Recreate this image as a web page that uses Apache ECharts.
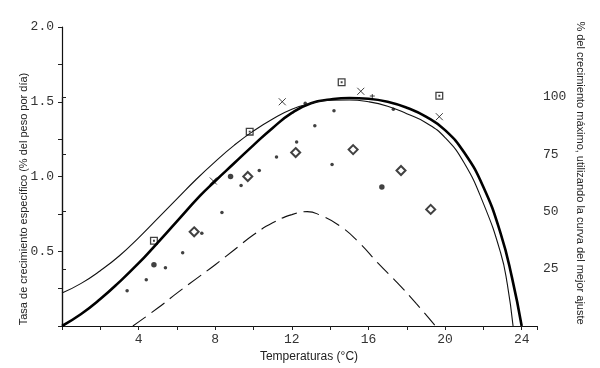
<!DOCTYPE html>
<html>
<head>
<meta charset="utf-8">
<script src="https://cdn.jsdelivr.net/npm/echarts@6/dist/echarts.min.js"></script>
<style>
html, body { margin: 0; padding: 0; background: #fff; }
#chart { width: 600px; height: 368px; }
</style>
</head>
<body>
<div id="chart"></div>
<script>
// curvas: [temperatura, tasa]
var curvaAjuste = [[0,0],[1,0.08],[2,0.18],[3,0.295],[4,0.42],[4.8,0.53],[6,0.70],[7.2,0.87],[8,0.97],[9,1.09],[10,1.21],[11,1.325],[12,1.425],[13,1.49],[14,1.515],[15,1.525],[16,1.52],[17,1.50],[18,1.46],[19,1.40],[20,1.31],[21,1.16],[22,0.93],[22.9,0.62],[23.5,0.32],[24,0]];
var curvaFina = [[0,0.22],[1,0.285],[2,0.37],[3,0.47],[4,0.59],[5,0.72],[6,0.85],[7,0.98],[8,1.10],[9,1.21],[10,1.305],[11,1.385],[12,1.45],[13,1.49],[14,1.51],[15,1.512],[16,1.50],[17,1.47],[18,1.42],[19,1.36],[20,1.26],[21,1.09],[22,0.82],[22.9,0.49],[23.25,0.28],[23.55,0]];
var curvaTrazos = [[3.7,0],[5,0.12],[6,0.22],[7,0.315],[8,0.41],[9,0.51],[10,0.61],[11,0.69],[12,0.745],[12.8,0.765],[13.5,0.74],[14.5,0.67],[15.5,0.56],[16.5,0.42],[17.5,0.29],[18.5,0.15],[19.5,0]];

var cuadrados = [[4.8,0.57],[9.8,1.30],[14.6,1.63],[19.7,1.54]];
var cruces = [[7.9,0.97],[11.5,1.50],[15.6,1.57],[19.7,1.40]];
var rombos = [[6.9,0.63],[9.7,1.0],[12.2,1.16],[15.2,1.18],[17.7,1.04],[19.25,0.78]];
var puntos = [[3.4,0.235],[4.4,0.31],[5.4,0.39],[6.3,0.49],[7.3,0.62],[8.35,0.76],[9.35,0.94],[10.3,1.04],[11.2,1.13],[12.25,1.23],[13.2,1.34],[14.2,1.44],[14.1,1.08],[12.7,1.49],[17.3,1.45]];
var puntosGrandes = [[4.8,0.41],[8.8,1.0],[16.7,0.93]];
var mas = [[16.2,1.535]];

var etiquetasX = [4, 8, 12, 16, 20, 24];

var fuenteNum = 'Liberation Mono';
var colorTexto = '#333';

var myChart = echarts.init(document.getElementById('chart'));
var option = {
    animation: false,
    backgroundColor: '#fff',
    grid: [
        {left: 62, right: 63, top: 27, bottom: 42},
        {left: 62, right: 63, top: 97, bottom: 42}
    ],
    xAxis: [
        {
            type: 'value',
            gridIndex: 0,
            min: 0,
            max: 24.8,
            interval: 2,
            axisLine: {lineStyle: {color: '#111', width: 1.2}},
            axisTick: {length: 4, lineStyle: {color: '#222'}},
            splitLine: {show: false},
            axisLabel: {
                margin: 7,
                color: colorTexto,
                fontFamily: fuenteNum,
                fontSize: 13,
                formatter: function (v) {
                    return etiquetasX.indexOf(v) >= 0 ? String(v) : '';
                }
            }
        },
        {
            type: 'value',
            gridIndex: 1,
            min: 0,
            max: 24.8,
            show: false
        }
    ],
    yAxis: [
        {
            type: 'value',
            gridIndex: 0,
            min: 0,
            max: 2,
            interval: 0.5,
            axisLine: {show: true, lineStyle: {color: '#111', width: 1.2}},
            axisTick: {show: true, length: 4, lineStyle: {color: '#222'}},
            minorTick: {show: true, splitNumber: 2, length: 4, lineStyle: {color: '#222'}},
            splitLine: {show: false},
            axisLabel: {
                margin: 8,
                color: colorTexto,
                fontFamily: fuenteNum,
                fontSize: 13,
                formatter: function (v) {
                    return v === 0 ? '' : v.toFixed(1);
                }
            }
        },
        {
            type: 'value',
            gridIndex: 1,
            position: 'right',
            min: 0,
            max: 100,
            interval: 25,
            axisLine: {show: true, lineStyle: {color: '#111', width: 1.2}},
            axisTick: {show: true, length: 4, lineStyle: {color: '#222'}},
            splitLine: {show: false},
            axisLabel: {
                margin: 6,
                color: colorTexto,
                fontFamily: fuenteNum,
                fontSize: 13,
                formatter: function (v) {
                    return v === 0 ? '' : String(v);
                }
            }
        }
    ],
    graphic: [
        {
            type: 'text',
            x: 24, y: 199,
            rotation: Math.PI / 2,
            style: {
                text: 'Tasa de crecimiento específico (% del peso por día)',
                fontFamily: 'Liberation Sans', fontSize: 11, fill: '#222',
                textAlign: 'center', textVerticalAlign: 'middle'
            }
        },
        {
            type: 'text',
            x: 580, y: 173,
            rotation: -Math.PI / 2,
            style: {
                text: '% del crecimiento máximo, utilizando la curva del mejor ajuste',
                fontFamily: 'Liberation Sans', fontSize: 11, fill: '#222',
                textAlign: 'center', textVerticalAlign: 'middle'
            }
        },
        {
            type: 'text',
            x: 309, y: 357,
            style: {
                text: 'Temperaturas (°C)',
                fontFamily: 'Liberation Sans', fontSize: 12, fill: '#222',
                textAlign: 'center', textVerticalAlign: 'middle'
            }
        }
    ],
    series: [
        {
            name: 'ajuste',
            type: 'line',
            data: curvaAjuste,
            smooth: 0.5,
            showSymbol: false,
            lineStyle: {color: '#000', width: 2.6}
        },
        {
            name: 'fina',
            type: 'line',
            data: curvaFina,
            smooth: 0.5,
            showSymbol: false,
            lineStyle: {color: '#111', width: 1.1}
        },
        {
            name: 'trazos',
            type: 'line',
            data: curvaTrazos,
            smooth: 0.5,
            showSymbol: false,
            lineStyle: {color: '#111', width: 1.1, type: [16, 7]}
        },
        {
            name: 'cuadrados',
            type: 'scatter',
            data: cuadrados,
            symbol: 'path://M0 0H10V10H0Z M1.6 1.6V8.4H8.4V1.6Z M3.8 3.8H6.2V6.2H3.8Z',
            symbolSize: 8,
            itemStyle: {color: '#111'}
        },
        {
            name: 'cruces',
            type: 'scatter',
            data: cruces,
            symbol: 'path://M0 0L10 10M10 0L0 10',
            symbolSize: 7,
            itemStyle: {color: 'none', borderColor: '#111', borderWidth: 1}
        },
        {
            name: 'rombos',
            type: 'scatter',
            data: rombos,
            symbol: 'emptyDiamond',
            symbolSize: 9,
            itemStyle: {color: '#111', borderColor: '#111', borderWidth: 0.9}
        },
        {
            name: 'puntos',
            type: 'scatter',
            data: puntos,
            symbol: 'circle',
            symbolSize: 3.5,
            itemStyle: {color: '#111'}
        },
        {
            name: 'puntosGrandes',
            type: 'scatter',
            data: puntosGrandes,
            symbol: 'circle',
            symbolSize: 5.5,
            itemStyle: {color: '#111'}
        },
        {
            name: 'mas',
            type: 'scatter',
            data: mas,
            symbol: 'path://M5 0V10M0 4H10',
            symbolSize: 5,
            itemStyle: {color: 'none', borderColor: '#111', borderWidth: 1}
        }
    ]
};
myChart.setOption(option);
</script>
</body>
</html>
